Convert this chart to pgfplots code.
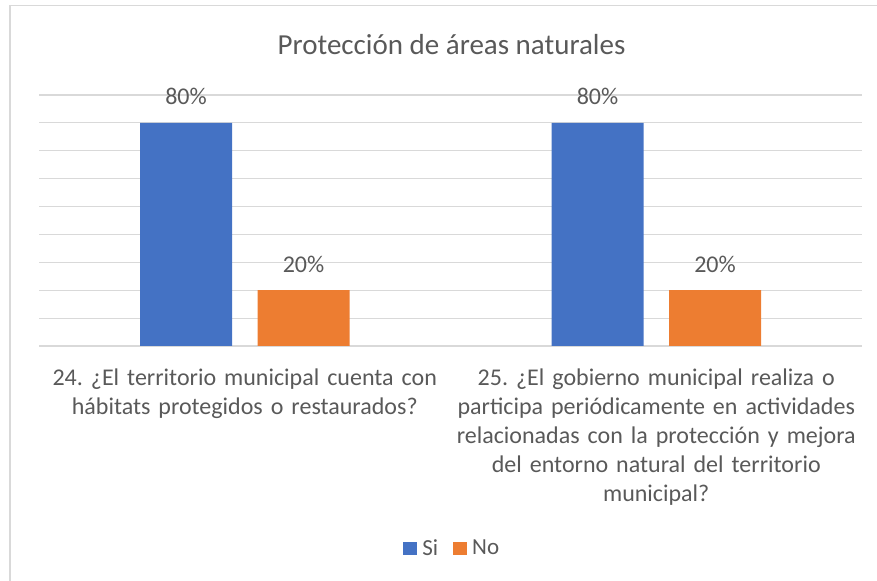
\documentclass[border=0pt]{standalone}
\usepackage{fontspec}
\setmainfont{Carlito}
\usepackage{pgfplots}
\pgfplotsset{compat=1.18}

\definecolor{siblue}{HTML}{4472C4}
\definecolor{noorange}{HTML}{ED7D31}
\definecolor{txtgray}{HTML}{595959}
\definecolor{gridgray}{HTML}{D9D9D9}

\pgfplotstableread{
x val
0 80
1 80
}\sidata
\pgfplotstableread{
x val
0 20
1 20
}\nodata

\begin{document}
\frenchspacing
\begin{tikzpicture}
\useasboundingbox (0,0) rectangle (877bp,581bp);
% chart frame (only top and left visible in the crop)
\draw[gridgray, line width=1.5bp] (10bp,0) -- (10bp,575.5bp) -- (877bp,575.5bp);
\node[text=txtgray, font=\fontsize{29bp}{34bp}\selectfont] at (451.5bp,536bp) {Protección de áreas naturales};

\begin{axis}[
    at={(39bp,235bp)}, anchor=south west,
    scale only axis,
    width=823bp, height=251bp,
    xmin=-0.5, xmax=1.5,
    ymin=0, ymax=90,
    ybar, bar width=92bp,
    /pgf/number format/assume math mode=true,
    axis line style={draw=none},
    tick style={draw=none},
    ytick={0,10,...,90},
    yticklabels={},
    ymajorgrids,
    grid style={gridgray, line width=1.2bp},
    xtick={0,1},
    xticklabels={
      {24. ¿El territorio municipal cuenta con\\hábitats protegidos o restaurados?},
      {25. ¿El gobierno municipal realiza o\\participa periódicamente en actividades\\relacionadas con la protección y mejora\\del entorno natural del territorio\\municipal?}},
    xticklabel style={text=txtgray, font=\fontsize{24bp}{29bp}\selectfont,
      align=center, text width=420bp, anchor=north, yshift=-15bp},
    nodes near coords={\pgfmathprintnumber{\pgfplotspointmeta}\%},
    every node near coord/.append style={text=txtgray,
      font=\fontsize{24bp}{29bp}\selectfont, anchor=base, yshift=18bp},
    legend columns=2,
    legend style={draw=none, fill=none, at={(0.504,-0.805)}, anchor=center,
      font=\fontsize{23bp}{27bp}\selectfont, text=txtgray,
      nodes={inner xsep=5bp},
      /tikz/every even column/.append style={column sep=10bp}},
    legend image code/.code={\fill[#1] (0bp,-6.5bp) rectangle (14bp,6.5bp);},
]
\addplot[fill=siblue, draw=none, bar shift=-58.75bp] table[x=x, y=val] {\sidata};
\addplot[fill=noorange, draw=none, bar shift=58.75bp] table[x=x, y=val] {\nodata};
\legend{Si, No}
\end{axis}
\end{tikzpicture}
\end{document}
